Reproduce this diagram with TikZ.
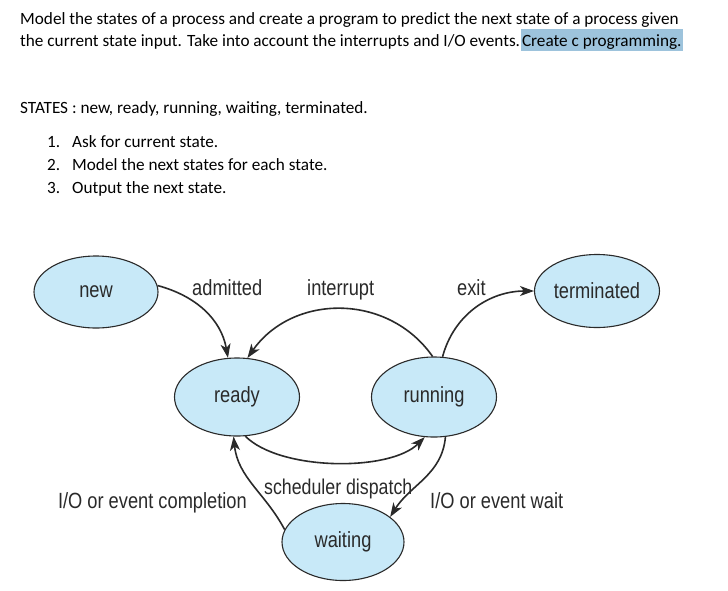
\documentclass[tikz,border=0pt]{standalone}
\usepackage{fontspec}
\setmainfont{Carlito}
\newfontfamily\diagfont[FakeStretch=0.83]{Liberation Sans}
\usetikzlibrary{shapes.geometric,arrows.meta}
\definecolor{hl}{HTML}{9DC3DC}
\definecolor{statefill}{HTML}{C8E9F8}
\definecolor{ink}{HTML}{2A2A2A}
\begin{document}
\begin{tikzpicture}[x=1pt,y=-1pt,
  txt/.style={anchor=base west,inner sep=0pt,font=\fontsize{17.2}{20}\selectfont},
  state/.style={ellipse,draw=ink,line width=1.1pt,fill=statefill,inner sep=0pt,
    font=\diagfont\fontsize{22}{24}\selectfont,text=ink},
  lbl/.style={inner sep=0pt,font=\diagfont\fontsize{22}{24}\selectfont,text=ink},
  conn/.style={draw=ink,line width=1.6pt,-{Stealth[length=14pt,width=10pt,inset=4pt]}}]
\useasboundingbox (0,0) rectangle (728,590);
\fill[white] (0,0) rectangle (728,590);
% text
\node[txt] (l1) at (20,24) {Model the states of a process and create a program to predict the next state of a process given};
\node[txt] (l2) at (20,46) {the current state input. Take into account the interrupts and I/O events.\ };
\node[txt,fill=hl,inner xsep=1.5pt,inner ysep=0pt,text depth=5pt,text height=17pt] (l2b) at (l2.base east) {Create c programming.};
\node[txt] (st) at (20,113) {STATES : new, ready, running, waiting, terminated.};
\node[txt] (n1) at (47,147) {1.};
\node[txt] (i1) at (72,147) {Ask for current state.};
\node[txt] (n2) at (47,170) {2.};
\node[txt] (i2) at (72,170) {Model the next states for each state.};
\node[txt] (n3) at (47,193) {3.};
\node[txt] (i3) at (72,193) {Output the next state.};
% states
\node[state,minimum width=124pt,minimum height=72pt] (new) at (96,292) {new};
\node[state,minimum width=125pt,minimum height=73pt] (term) at (597,291) {terminated};
\node[state,minimum width=125pt,minimum height=78pt] (ready) at (237,397) {ready};
\node[state,minimum width=125pt,minimum height=80pt] (run) at (434,397) {running};
\node[state,minimum width=122pt,minimum height=77pt] (wait) at (343,542) {waiting};
% labels
\node[lbl,anchor=base west] (ladm) at (192,295) {admitted};
\node[lbl,anchor=base west] (lint) at (307,295) {interrupt};
\node[lbl,anchor=base west] (lexit) at (457,295) {exit};
\node[lbl,anchor=base west,font=\diagfont\fontsize{21.4}{24}\selectfont] (lsch) at (264,494) {scheduler dispatch};
\node[lbl,anchor=base east] (lcomp) at (247,508) {I/O or event completion};
\node[lbl,anchor=base west] (lwait) at (430,508) {I/O or event wait};
% connectors
\path[conn] (new.6) to[out=-15,in=100] (ready.103);
\path[conn] (run.92) to[out=125,in=55,looseness=1.08] (ready.75);
\path[conn] (run.78) to[out=75,in=180] (term.180);
\path[conn] (ready.-78) to[out=-45,in=-135,looseness=0.7] (run.-103);
\path[conn] (run.-74) to[out=-95,in=58] (wait.28);
\path[conn] (wait.168) to[out=118,in=-84] (ready.-95);
\end{tikzpicture}
\end{document}
